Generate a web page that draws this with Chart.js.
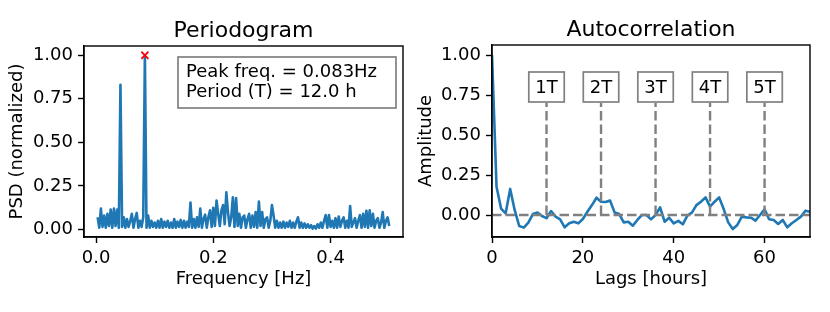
<!DOCTYPE html>
<html>
<head>
<meta charset="utf-8">
<title>Periodogram and autocorrelation</title>
<script src="https://cdn.jsdelivr.net/npm/chart.js@4"></script>
<style>
  html, body { margin: 0; padding: 0; background: #fff; }
  #wrap { position: relative; width: 830px; height: 312px; }
  #wrap canvas { position: absolute; top: 0; }
</style>
</head>
<body>
<div id="wrap">
  <canvas id="psd" width="415" height="312" style="left:0"></canvas>
  <canvas id="acf" width="415" height="312" style="left:415px"></canvas>
</div>
<script>
// periodogram: frequency resolution 1/360 Hz, first bin at 1/360
const psdStep = 1 / 360;
const psdValues = [
  0.07, 0.01, 0.12, 0.015, 0.08, 0.01, 0.09, 0.02, 0.115, 0.01,
  0.12, 0.02, 0.115, 0.01, 0.83, 0.015, 0.07, 0.01, 0.06, 0.015,
  0.05, 0.09, 0.01, 0.06, 0.095, 0.01, 0.05, 0.015, 0.07, 1.0,
  0.01, 0.08, 0.01, 0.05, 0.015, 0.04, 0.01, 0.05, 0.01, 0.06,
  0.01, 0.045, 0.015, 0.05, 0.01, 0.04, 0.01, 0.06, 0.01, 0.045,
  0.015, 0.055, 0.01, 0.05, 0.01, 0.045, 0.015, 0.154, 0.01, 0.06,
  0.01, 0.07, 0.015, 0.12, 0.01, 0.06, 0.085, 0.01, 0.07, 0.11,
  0.015, 0.125, 0.02, 0.166, 0.09, 0.02, 0.11, 0.14, 0.03, 0.213,
  0.10, 0.02, 0.07, 0.185, 0.015, 0.18, 0.02, 0.09, 0.01, 0.07,
  0.08, 0.01, 0.06, 0.09, 0.01, 0.08, 0.015, 0.10, 0.01, 0.16,
  0.02, 0.10, 0.01, 0.06, 0.07, 0.01, 0.05, 0.14, 0.08, 0.01,
  0.05, 0.01, 0.04, 0.01, 0.045, 0.01, 0.04, 0.015, 0.05, 0.01,
  0.04, 0.01, 0.045, 0.07, 0.01, 0.04, 0.01, 0.035, 0.01, 0.03,
  0.01, 0.025, 0.005, 0.02, 0.005, 0.03, 0.01, 0.04, 0.01, 0.05,
  0.083, 0.01, 0.083, 0.015, 0.05, 0.01, 0.065, 0.01, 0.075, 0.015,
  0.05, 0.07, 0.01, 0.05, 0.01, 0.135, 0.015, 0.04, 0.065, 0.01,
  0.05, 0.083, 0.01, 0.09, 0.015, 0.108, 0.01, 0.11, 0.02, 0.09,
  0.01, 0.05, 0.065, 0.01, 0.04, 0.10, 0.01, 0.05, 0.07, 0.02
];
const psdInfo = ['Peak freq. = 0.083Hz', 'Period (T) = 12.0 h'];

// autocorrelation, one value per lag (hours 0..70)
const acfValues = [
  1.0, 0.177, 0.04, 0.01, 0.163, 0.03, -0.069, -0.079, -0.048, 0.006,
  0.015, -0.006, -0.02, 0.025, -0.01, -0.027, -0.077, -0.052, -0.042, -0.052,
  -0.025, 0.02, 0.062, 0.108, 0.083, 0.081, 0.09, 0.015, 0.006, -0.046,
  -0.042, -0.067, -0.031, 0.0, 0.0, -0.027, 0.0, 0.048, -0.042, -0.017,
  -0.052, -0.037, -0.058, -0.004, 0.015, 0.062, 0.083, 0.11, 0.052, 0.083,
  0.11, 0.037, -0.046, -0.088, -0.062, -0.01, -0.015, -0.017, -0.035, 0.0,
  0.035, -0.027, -0.031, -0.056, -0.031, -0.077, -0.052, -0.031, -0.01, 0.027,
  0.02
];
const periodLags = [12, 24, 36, 48, 60];
const periodLabels = ['1T', '2T', '3T', '4T', '5T'];
const markerTop = 0.7;    // dashed period markers run from 0 to here
const labelLevel = 0.8;   // label boxes sit at this amplitude

const BLUE = '#1f77b4';
const GRAY = '#808080';
const FONT = 'DejaVu Sans';
const FS = 18;

Chart.defaults.font.family = FONT;
Chart.defaults.font.size = FS;
Chart.defaults.color = '#000';

// frame (top/right spines) + axes title
const framePlugin = {
  id: 'frame',
  afterDraw(chart, args, opts) {
    const { ctx, chartArea: a } = chart;
    ctx.save();
    ctx.strokeStyle = '#000';
    ctx.lineWidth = 1.4;
    ctx.strokeRect(a.left, a.top, a.right - a.left, a.bottom - a.top);
    ctx.font = `22px "${FONT}"`;
    ctx.fillStyle = '#000';
    ctx.textAlign = 'center';
    ctx.textBaseline = 'alphabetic';
    ctx.fillText(opts.title, (a.left + a.right) / 2, a.top - 9);
    ctx.restore();
  }
};
Chart.register(framePlugin);

function axis(min, max, step, digits, fit, title, pad) {
  return {
    type: 'linear', min, max,
    border: { display: true, color: '#000', width: 1.4 },
    grid: { display: true, drawOnChartArea: false, drawTicks: true, tickLength: 6, tickWidth: 1.4, tickColor: '#000' },
    ticks: { stepSize: step, includeBounds: false, autoSkip: false, maxRotation: 0, padding: 5,
             callback: v => Number(v).toFixed(digits) },
    title: { display: true, text: title, padding: pad },
    afterFit: fit
  };
}

// ---- periodogram ----
const psdPoints = psdValues.map((v, i) => ({ x: (i + 1) * psdStep, y: v }));
const peakIdx = psdValues.indexOf(Math.max(...psdValues));

const infoBox = {
  id: 'infoBox',
  afterDatasetsDraw(chart) {
    const { ctx, chartArea: a } = chart;
    const left = a.left + 94, top = a.top + 11, w = 218, h = 51;
    ctx.save();
    ctx.fillStyle = '#fff';
    ctx.fillRect(left, top, w, h);
    ctx.strokeStyle = GRAY;
    ctx.lineWidth = 1.7;
    ctx.strokeRect(left, top, w, h);
    ctx.fillStyle = '#000';
    ctx.font = `${FS}px "${FONT}"`;
    ctx.textAlign = 'left';
    ctx.textBaseline = 'middle';
    psdInfo.forEach((t, i) => ctx.fillText(t, left + 8, top + 15 + i * 20.5));
    ctx.restore();
  }
};

new Chart(document.getElementById('psd'), {
  type: 'line',
  data: {
    datasets: [
      { data: [psdPoints[peakIdx]], showLine: false, pointStyle: 'crossRot', pointRadius: 5,
        pointBorderColor: 'red', pointBorderWidth: 1.8, order: 0 },
      { data: psdPoints, borderColor: BLUE, borderWidth: 2.6, pointRadius: 0, tension: 0,
        borderJoinStyle: 'round', order: 1 }
    ]
  },
  options: {
    responsive: false, devicePixelRatio: 1, animation: false,
    layout: { padding: { top: 46, right: 12, left: 0, bottom: 0 } },
    plugins: { legend: { display: false }, tooltip: { enabled: false }, frame: { title: 'Periodogram' } },
    scales: {
      x: axis(-0.0205, 0.5235, 0.2, 1, s => { s.height = 75; }, 'Frequency [Hz]', { top: 0, bottom: 22 }),
      y: axis(-0.043, 1.053, 0.25, 2, s => { s.width = 84; }, 'PSD (normalized)', { top: 7, bottom: 0 })
    }
  },
  plugins: [infoBox]
});

// ---- autocorrelation ----
const acfPoints = acfValues.map((v, i) => ({ x: i, y: v }));
const zeroLine = [{ x: 0, y: 0 }, { x: 70, y: 0 }];
const dash = { borderColor: GRAY, borderWidth: 2.4, borderDash: [9.5, 4], pointRadius: 0, order: 0 };

const lagLabels = {
  id: 'lagLabels',
  afterDatasetsDraw(chart) {
    const { ctx, scales } = chart;
    ctx.save();
    ctx.font = `${FS}px "${FONT}"`;
    ctx.textAlign = 'center';
    ctx.textBaseline = 'middle';
    periodLags.forEach((lag, i) => {
      const cx = scales.x.getPixelForValue(lag);
      const cy = scales.y.getPixelForValue(labelLevel);
      const w = ctx.measureText(periodLabels[i]).width + 13, h = 30;
      ctx.fillStyle = '#fff';
      ctx.fillRect(cx - w / 2, cy - h / 2, w, h);
      ctx.strokeStyle = GRAY;
      ctx.lineWidth = 1.7;
      ctx.strokeRect(cx - w / 2, cy - h / 2, w, h);
      ctx.fillStyle = '#000';
      ctx.fillText(periodLabels[i], cx, cy + 1);
    });
    ctx.restore();
  }
};

new Chart(document.getElementById('acf'), {
  type: 'line',
  data: {
    datasets: [
      Object.assign({ data: zeroLine }, dash),
      ...periodLags.map(lag => Object.assign({ data: [{ x: lag, y: 0 }, { x: lag, y: markerTop }] }, dash)),
      { data: acfPoints, borderColor: BLUE, borderWidth: 2.6, pointRadius: 0, tension: 0,
        borderJoinStyle: 'round', order: 1 }
    ]
  },
  options: {
    responsive: false, devicePixelRatio: 1, animation: false,
    layout: { padding: { top: 45, right: 20, left: 0, bottom: 0 } },
    plugins: { legend: { display: false }, tooltip: { enabled: false }, frame: { title: 'Autocorrelation' } },
    scales: {
      x: axis(0, 70, 20, 0, s => { s.height = 75; }, 'Lags [hours]', { top: 0, bottom: 22 }),
      y: axis(-0.1375, 1.0625, 0.25, 2, s => { s.width = 77; }, 'Amplitude', { top: 1, bottom: 0 })
    }
  },
  plugins: [lagLabels]
});
</script>
</body>
</html>
